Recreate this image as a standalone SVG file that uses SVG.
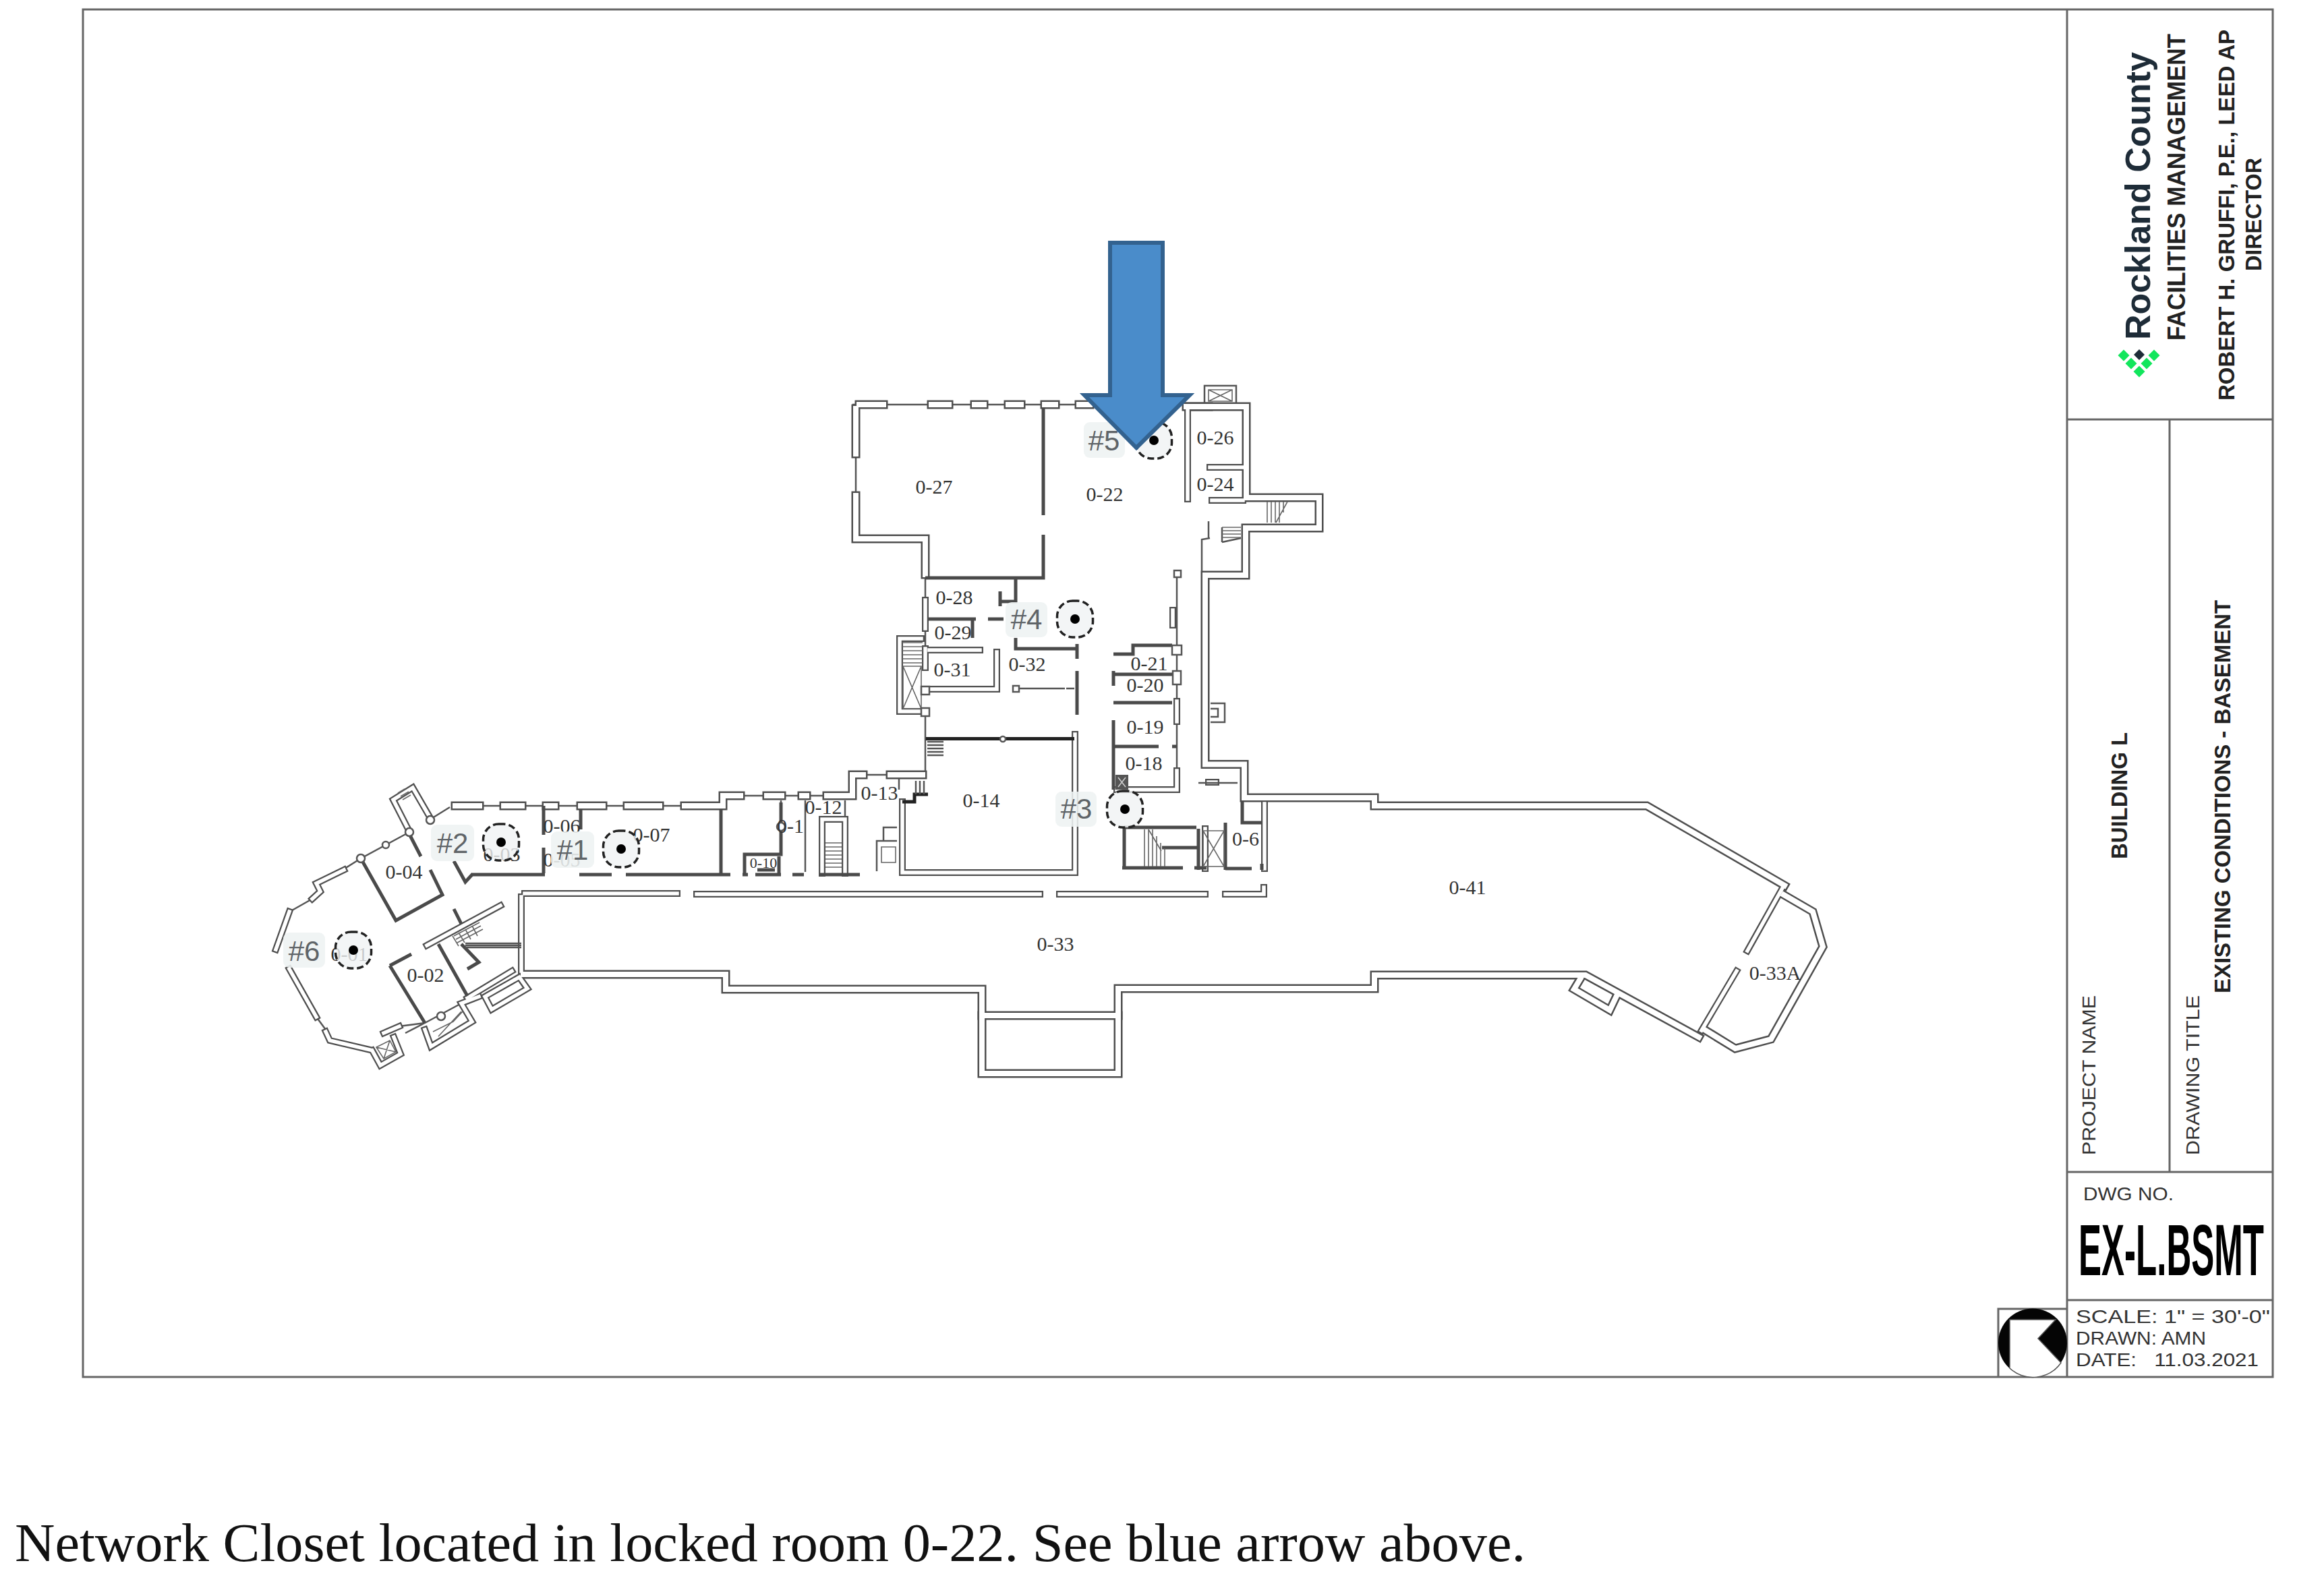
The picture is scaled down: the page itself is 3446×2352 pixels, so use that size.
<svg xmlns="http://www.w3.org/2000/svg" xmlns:xlink="http://www.w3.org/1999/xlink" width="3446" height="2352" viewBox="0 0 3446 2352">
<style>
text{font-family:"Liberation Sans",Arial,sans-serif}
.frame{fill:none;stroke:#666;stroke-width:3}
.wo{fill:none;stroke:#4f4f4f;stroke-width:13;stroke-linecap:square;stroke-linejoin:miter}
.wi{fill:none;stroke:#fff;stroke-width:8;stroke-linecap:square;stroke-linejoin:miter}
.so{fill:none;stroke:#4f4f4f;stroke-width:10;stroke-linecap:square;stroke-linejoin:miter}
.si{fill:none;stroke:#fff;stroke-width:5.5;stroke-linecap:square;stroke-linejoin:miter}
.thin{fill:none;stroke:#555;stroke-width:2.5}
.hair{fill:none;stroke:#666;stroke-width:1.6}
.dk{fill:none;stroke:#4a4a4a;stroke-width:5}
.blk{fill:none;stroke:#222;stroke-width:5}
.post{fill:#fff;stroke:#555;stroke-width:2.5}
.rm{font-family:"Liberation Serif","Times New Roman",serif;font-size:30px;fill:#333;text-anchor:middle}
.chip{fill:#eef2f3;fill-opacity:.88}
.tag{font-size:42px;fill:#5f6468;text-anchor:middle}
.mk{fill:#f0f3f4;fill-opacity:.8;stroke:#222;stroke-width:3.5;stroke-dasharray:10 5}
.tb{font-weight:700;fill:#222}
.cad{fill:#333}
</style>
<defs>
<g id="mark"><rect x="-26.500" y="-27" width="53" height="54" rx="23" class="mk"/><circle r="7" fill="#000"/></g>
<g id="wallsL">
<path d="M1762 603H1848V738H1956V783H1847V853H1787V1133.500H1845V1183H2038V1195H2442L2646 1313"/>
<path d="M2645 1327L2688 1352L2703 1404L2626 1541L2573 1555L2529 1528"/>
<path d="M776 1445H1076V1467H1456V1506H1658V1466H2038V1446H2351L2519 1538"/>
<path d="M1456 1506V1592H1658V1506"/>
<path d="M2343 1452L2334 1467L2387 1498L2398 1475"/>
<path d="M1269 606V673M1269 735V799H1372V852"/>
<path d="M1274 600H1310M1381 600H1407M1445 600H1459M1495 600H1514M1549 600H1565M1600 600H1616M1759 603H1792"/>
<path d="M675 1195H711M747 1195H774M810 1195H823M861 1195H894M930 1195H978M1015 1195H1072V1180H1098M1137 1180H1159M1189 1180H1196M1226 1180H1264V1149H1280M1320 1149H1368"/>
</g>
<g id="wallsS">
<path d="M2643 1317L2591 1410M2575 1440L2523 1528"/>
<path d="M773 1330V1440M778 1325H1004M1033 1326H1542M1571 1326H1787M1817 1326H1874V1316"/>
<path d="M1875 1192V1288"/>
<path d="M1761 609V740M1797 742H1843M1794 693H1843"/>
<path d="M1594 1089V1294H1338V1189"/>
<path d="M1372 890V932M1372 962V990M1378 964H1453M1478 967V1022H1378"/>
<path d="M1334 1055H1366M1334 1055V947H1366"/>
<path d="M1739 905V927M1745 1040V1070M1745 1143V1169M1656 1171H1745"/>
<path d="M510 1290L469 1310L475 1322L463 1333M429 1352L409 1408M429 1437L469 1508M483 1530L489 1543L549 1557"/>
<path d="M552 1558L564 1580L594 1563L584 1538M569 1532L592 1522"/>
<path d="M630 1527L639 1552L700 1515L684 1488L710 1478"/>
<path d="M719 1478L729 1497L782 1466L770 1449Z"/>
<path d="M607 1233L583 1186L612 1168L638 1213"/>
<path d="M693 1480L759 1440"/>
<path d="M1219 1295V1215H1253V1295"/>
<path d="M633 1402L742 1343"/>
<path d="M1787 1229V1288M1792 1160H1803"/>
</g>
</defs>
<rect width="3446" height="2352" fill="#fff"/>
<g id="title-block">
<rect class="frame" x="123" y="14" width="3247" height="2028"/>
<path class="frame" d="M3065 14V2042M3065 622H3370M3217 622V1738M3065 1738H3370M3065 1928H3370M2963 2042V1941H3065"/>
<text class="tb" transform="translate(3188 504) rotate(-90)" font-size="52" textLength="427" lengthAdjust="spacingAndGlyphs" style="fill:#1e2c38">Rockland County</text>
<text class="tb" transform="translate(3240 505) rotate(-90)" font-size="36" textLength="455" lengthAdjust="spacingAndGlyphs">FACILITIES MANAGEMENT</text>
<text class="tb" transform="translate(3313 594) rotate(-90)" font-size="33" textLength="550" lengthAdjust="spacingAndGlyphs">ROBERT H. GRUFFI, P.E., LEED AP</text>
<text class="tb" transform="translate(3353 402) rotate(-90)" font-size="33" textLength="168" lengthAdjust="spacingAndGlyphs">DIRECTOR</text>
<path fill="#12e65c" d="M3149 518.500l8.500 8.500-8.500 8.500-8.500-8.500zM3194 518.500l8.500 8.500-8.500 8.500-8.500-8.500zM3160 530.500l8.500 8.500-8.500 8.500-8.500-8.500zM3183 530.500l8.500 8.500-8.500 8.500-8.500-8.500zM3172 542.500l8.500 8.500-8.500 8.500-8.500-8.500z"/>
<path fill="#1e2c38" d="M3172 518l8 8-8 8-8-8z"/>
<text class="tb" transform="translate(3154 1274) rotate(-90)" font-size="34" textLength="188" lengthAdjust="spacingAndGlyphs">BUILDING L</text>
<text class="tb" transform="translate(3307 1473) rotate(-90)" font-size="34" textLength="583" lengthAdjust="spacingAndGlyphs">EXISTING CONDITIONS - BASEMENT</text>
<text class="cad" transform="translate(3107 1713) rotate(-90)" font-size="28" textLength="237" lengthAdjust="spacingAndGlyphs">PROJECT NAME</text>
<text class="cad" transform="translate(3261 1713) rotate(-90)" font-size="28" textLength="237" lengthAdjust="spacingAndGlyphs">DRAWING TITLE</text>
<text class="cad" x="3089" y="1780" font-size="28" textLength="134" lengthAdjust="spacingAndGlyphs">DWG NO.</text>
<text transform="translate(3082 1891) scale(.477 1)" font-size="107" font-weight="700" fill="#000">EX-L.BSMT</text>
<text class="cad" x="3078" y="1962" font-size="28" textLength="288" lengthAdjust="spacingAndGlyphs">SCALE: 1" = 30'-0"</text>
<text class="cad" x="3078" y="1994" font-size="28" textLength="193" lengthAdjust="spacingAndGlyphs">DRAWN: AMN</text>
<text class="cad" x="3078" y="2026" font-size="28" textLength="271" lengthAdjust="spacingAndGlyphs" xml:space="preserve">DATE:   11.03.2021</text>
<circle cx="3014" cy="1991.500" r="51" fill="#050505"/>
<path fill="#fff" stroke="#555" stroke-width="1.500" d="M2980 1957H3048L3022 1985L3056 2021A51 51 0 0 1 2980 2029Z"/>
</g>
<g id="floor-plan">
<path class="thin" d="M675 1195H1072M1072 1180H1264M1264 600H1621M1754 603H1792M638 1215L667 1197M607 1234L535 1273L505 1292M463 1333L433 1350M469 1508L483 1527M592 1522L630 1517M601 1532L630 1517L684 1488M1269 673V735M1372 852V964M1372 1060V1145M1745 856V1171M1284 1149H1320M806 1195V1190M1158 1187V1268M1194 1187V1293M1253 1187V1215M1807 1161H1835"/>
<use href="#wallsL" class="wo"/><use href="#wallsS" class="so"/>
<use href="#wallsL" class="wi"/><use href="#wallsS" class="si"/>
<path class="dk" d="M1547 604V764M1547 793V857H1372M1506 859V892H1481M1483 877V899M1376 918H1447M1442 919V946M1465 918H1488M1506 946V962H1595M1597 955V977M1597 995V1060M1651 995V1017M1651 1068V1171M1651 970H1680V957H1738M1651 1000H1738M1651 1042H1738M1651 1107H1718M1738 1107H1745M1842 1187V1220H1871M1817 1220V1290M1817 1288H1856M1871 1281V1290M1667 1227H1774M1667 1227V1287M1664 1287H1754M1723 1257H1777M1771 1287H1789M1777 1229V1290"/>
<path class="dk" d="M806 1195V1238M806 1257V1295M861 1200V1230M1069 1200V1295M699 1297H808M859 1297H907M928 1297H1083M1101 1297H1109M1120 1297H1158M1175 1297H1192M1215 1297H1275M1158 1190V1267H1104V1295M1155 1270V1295M1123 1290H1149"/>
<path class="blk" d="M1373 1095.500H1593M1338 1189H1356V1178H1376"/>
<path class="dk" d="M607 1237L624 1270M638 1290L656 1327L587 1365L535 1273M673 1277L690 1308L701 1296M578 1432L630 1517M578 1432L610 1415M650 1400L693 1477M673 1348L684 1370M684 1400L710 1427L693 1437"/>
<path class="thin" d="M690 1399H773M690 1402H773M690 1405H773"/>
<path class="thin" d="M1300 1292V1247H1330M1310 1247V1227H1330M1333 1154V1171M1579 1021H1509M1581 1021H1593M1786 597V572H1833V597M1782 847V800L1794 798M1792 773V798M1812 782V804M1812 804L1840 798M1777 1161H1807M1795 1043H1816V1071H1795M1795 1051H1806V1063H1795"/>
<path class="hair" d="M1307 1256H1328V1279H1307ZM1792 578H1827V595H1792ZM1792 578L1827 595M1827 578L1792 595M1339 988H1366V1051H1339ZM1339 988L1366 1051M1366 988L1339 1051M1784 1232H1815V1285H1784ZM1784 1232L1815 1285M1815 1232L1784 1285M558 1553L578 1543L587 1560L569 1570ZM558 1553L587 1560M578 1543L569 1570M642 1530L672 1515L686 1500M650 1537L684 1500"/>
<path class="hair" d="M1338 953H1368M1338 959H1368M1338 965H1368M1338 971H1368M1338 977H1368M1338 983H1368M1224 1250H1248M1224 1256H1248M1224 1262H1248M1224 1268H1248M1224 1274H1248M1224 1280H1248M1224 1286H1248M1697 1230V1285M1703 1230V1285M1709 1230V1285M1715 1240V1285M1721 1250V1285M1727 1258V1285M1703 1230L1722 1262M1879 744V775M1885 744V775M1891 744V775M1897 744V775M1903 744V760M1909 744L1892 775M1812 787H1840M1812 792H1840M1812 797H1840M1812 782H1840M590 1176L600 1170M594 1181L606 1174M597 1186L609 1179M673 1388L711 1368M676 1393L713 1373M678 1398L716 1378M671 1388L680 1403M680 1383L689 1398M690 1378L698 1393M700 1373L708 1388"/>
<path class="thin" d="M1375 1100H1399M1375 1105H1399M1375 1110H1399M1375 1115H1399M1375 1120H1399M1358 1158V1178M1364 1158V1178M1370 1158V1178"/>
<rect x="1654" y="1149" width="19" height="22" fill="#555"/>
<path class="hair" style="stroke:#ccc" d="M1658 1153L1669 1167M1669 1153L1658 1167"/>
<g class="post">
<circle cx="638" cy="1216" r="6"/><circle cx="607" cy="1234" r="6"/><circle cx="572" cy="1253" r="5"/><circle cx="535" cy="1273" r="6"/><circle cx="654" cy="1507" r="6"/><circle cx="1158" cy="1226" r="6"/>
<rect x="1741" y="846" width="10" height="10"/><rect x="1738" y="957" width="14" height="14"/><rect x="1739" y="995" width="12" height="20"/><rect x="1502" y="1017" width="9" height="9"/><rect x="1366" y="1018" width="12" height="12"/><rect x="1366" y="1050" width="12" height="12"/><circle cx="1487" cy="1096" r="4"/>
</g>
</g>
<g id="room-labels">
<text class="rm" x="1385" y="732">0-27</text><text class="rm" x="1638" y="743">0-22</text><text class="rm" x="1802" y="659">0-26</text><text class="rm" x="1802" y="728">0-24</text><text class="rm" x="1415" y="896">0-28</text><text class="rm" x="1413" y="948">0-29</text><text class="rm" x="1412" y="1003">0-31</text><text class="rm" x="1523" y="995">0-32</text><text class="rm" x="1704" y="994">0-21</text><text class="rm" x="1698" y="1026">0-20</text><text class="rm" x="1698" y="1088">0-19</text><text class="rm" x="1696" y="1142">0-18</text><text class="rm" x="1304" y="1186">0-13</text><text class="rm" x="1455" y="1197">0-14</text><text class="rm" x="1847" y="1254">0-6</text><text class="rm" x="1565" y="1410">0-33</text><text class="rm" x="2176" y="1326">0-41</text><text class="rm" x="2632" y="1453">0-33A</text><text class="rm" x="1221" y="1207">0-12</text><text class="rm" x="1172" y="1235">0-1</text><text class="rm" x="1132" y="1287" style="font-size:22px">0-10</text><text class="rm" x="833" y="1235">0-06</text><text class="rm" x="966" y="1248">0-07</text><text class="rm" x="599" y="1303">0-04</text><text class="rm" x="631" y="1456">0-02</text><text class="rm" x="744" y="1277">0-03</text><text class="rm" x="518" y="1425">0-01</text><text class="rm" x="833" y="1285">0-05</text>
</g>
<g id="node-1"><rect class="chip" x="817" y="1233" width="64" height="54" rx="9"/><text class="tag" x="849" y="1275">#1</text><use href="#mark" x="921" y="1259"/></g>
<g id="node-2"><rect class="chip" x="639" y="1223" width="64" height="54" rx="9"/><text class="tag" x="671" y="1265">#2</text><use href="#mark" x="743" y="1249"/></g>
<g id="node-3"><rect class="chip" x="1565" y="1174" width="61" height="52" rx="9"/><text class="tag" x="1596" y="1214">#3</text><use href="#mark" x="1668" y="1200"/></g>
<g id="node-4"><rect class="chip" x="1491" y="893" width="62" height="52" rx="9"/><text class="tag" x="1522" y="933">#4</text><use href="#mark" x="1594" y="918"/></g>
<g id="node-5"><rect class="chip" x="1607" y="626" width="61" height="53" rx="9"/><text class="tag" x="1637" y="668">#5</text><use href="#mark" x="1711" y="653"/></g>
<g id="node-6"><rect class="chip" x="420" y="1383" width="62" height="52" rx="9"/><text class="tag" x="451" y="1425">#6</text><use href="#mark" x="524" y="1409"/></g>
<g id="connectors">
<path d="M1646 360H1724V586H1764L1685 664L1608 586H1646Z" fill="#4a8cca" stroke="#33628f" stroke-width="6"/>
</g>
<text x="22" y="2315" font-size="80" fill="#111" style="font-family:'Liberation Serif','Times New Roman',serif" textLength="2240" lengthAdjust="spacingAndGlyphs">Network Closet located in locked room 0-22. See blue arrow above.</text>
</svg>
